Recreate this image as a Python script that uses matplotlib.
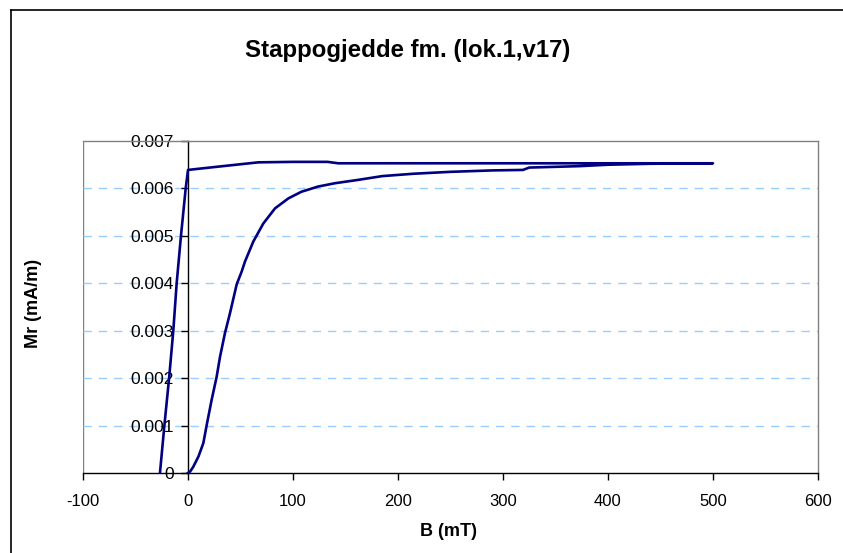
import matplotlib
matplotlib.use("Agg")
import matplotlib.pyplot as plt
from matplotlib.lines import Line2D

plt.rcParams['font.family'] = ['Liberation Sans', 'DejaVu Sans']
plt.rcParams['axes.unicode_minus'] = False

title = "Stappogjedde fm. (lok.1,v17)"
x_label = "B (mT)"
y_label = "Mr (mA/m)"

# IRM acquisition (lower curve)
B_acq = [0, 2, 5, 10, 14.6, 17.8, 22.5, 27.3, 30.5, 35.2, 40, 46.4, 51, 54.3, 62.2,
         71.7, 82.9, 95.6, 108, 124, 140, 162, 185, 215, 250, 290, 319, 325, 373,
         400, 440, 500]
M_acq = [0, 0.00003, 0.00013, 0.00035, 0.00063, 0.00101, 0.00154, 0.00203, 0.00245,
         0.00295, 0.00337, 0.00398, 0.00424, 0.00446, 0.00488, 0.00526, 0.00558,
         0.00579, 0.00593, 0.00604, 0.00611, 0.00618, 0.00626, 0.00631, 0.00635,
         0.00638, 0.00639, 0.00644, 0.00647, 0.0065, 0.00652, 0.00653]
# return / backfield (upper curve)
B_bf = [500, 300, 143, 133, 100, 67, 29, 0, -2.2, -6.7, -10.8, -14, -18, -22.5, -26.7]
M_bf = [0.00653, 0.00653, 0.00653, 0.00656, 0.00656, 0.00655, 0.00646, 0.00639,
        0.006, 0.005, 0.004, 0.003, 0.002, 0.001, 0.0]

x_ticks = [-100, 0, 100, 200, 300, 400, 500, 600]
y_ticks = [0, 0.001, 0.002, 0.003, 0.004, 0.005, 0.006, 0.007]
y_tick_labels = ["0", "0.001", "0.002", "0.003", "0.004", "0.005", "0.006", "0.007"]

W, H = 843, 553
fig = plt.figure(figsize=(W / 100, H / 100), dpi=100)
fig.patch.set_facecolor('white')

# outer chart frame
fig.add_artist(Line2D([11 / W, 11 / W], [0, 1 - 10 / H], color='black', lw=1.2))
fig.add_artist(Line2D([11 / W, 1], [1 - 10 / H, 1 - 10 / H], color='black', lw=1.2))

left, right, top, bottom = 83, 818, 141, 473
ax = fig.add_axes([left / W, 1 - bottom / H, (right - left) / W, (bottom - top) / H])

ax.set_xlim(-100, 600)
ax.set_ylim(0, 0.007)

for y in y_ticks[1:-1]:
    ax.axhline(y, color='#99CCFF', lw=1.0, dashes=(6, 5), zorder=1)

ax.plot(B_acq + B_bf, M_acq + M_bf, color='#000080', lw=1.9, zorder=3,
        solid_joinstyle='round')

# spines
for s in ['top', 'right']:
    ax.spines[s].set_color('#808080')
    ax.spines[s].set_linewidth(1.0)
ax.spines['left'].set_position(('data', 0))
ax.spines['left'].set_color('black')
ax.spines['left'].set_linewidth(1.0)
ax.spines['bottom'].set_color('black')
ax.spines['bottom'].set_linewidth(1.0)
ax.axvline(-100, color='#808080', lw=1.0, zorder=0)

ax.set_xticks(x_ticks)
ax.set_xticklabels([str(v) for v in x_ticks])
ax.set_yticks(y_ticks)
ax.set_yticklabels(y_tick_labels)
ax.tick_params(axis='x', direction='out', length=5, width=1, labelsize=12, pad=10, colors='black')
ax.tick_params(axis='y', direction='out', length=5, width=1, labelsize=12.5, pad=5, colors='black')

fig.text(408 / W, 1 - 51 / H, title, ha='center', va='center', fontsize=17.3, fontweight='bold')
fig.text(449 / W, 1 - 531 / H, x_label, ha='center', va='center', fontsize=13, fontweight='bold')
fig.text(33 / W, 1 - 303 / H, y_label, ha='center', va='center', fontsize=13,
         fontweight='bold', rotation=90)

fig.savefig('out.png', dpi=100, facecolor='white')
